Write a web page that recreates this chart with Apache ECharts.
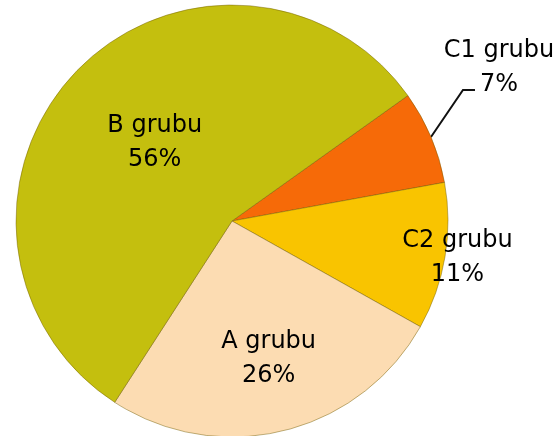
<!DOCTYPE html>
<html>
<head>
<meta charset="utf-8">
<script src="https://cdn.jsdelivr.net/npm/echarts@6/dist/echarts.min.js"></script>
<style>
  html, body { margin: 0; padding: 0; background: #fff; }
  #main { width: 557px; height: 436px; }
</style>
</head>
<body>
<div id="main"></div>
<script>
// slice order follows the picture, clockwise from the top right
const groups = ['C1 grubu', 'C2 grubu', 'A grubu', 'B grubu'];
const percents = [7, 11, 26, 56];
const colors = ['#f66a08', '#f9c400', '#fcdcb2', '#c4bf0e'];

// small nudges for the labels, in pixels (dx, dy)
const labelShift = {
  'B grubu': [3, -2],
  'A grubu': [10, 30],
  'C2 grubu': [116, 18]
};

const myChart = echarts.init(document.getElementById('main'));

const option = {
  animation: false,
  series: [
    {
      type: 'pie',
      center: [232, 221],
      radius: 216,
      startAngle: 35.5,
      clockwise: true,
      itemStyle: {
        borderColor: 'rgba(110, 90, 0, 0.45)',
        borderWidth: 1
      },
      label: {
        show: true,
        position: 'inside',
        formatter: '{b}\n{c}%',
        fontFamily: 'DejaVu Sans',
        fontSize: 24,
        lineHeight: 34,
        color: '#000',
        align: 'center'
      },
      labelLine: {
        show: true,
        lineStyle: { color: '#111', width: 2 }
      },
      labelLayout: function (p) {
        const name = groups[p.dataIndex];
        if (name === 'C1 grubu' && p.labelLinePoints) {
          const a = p.labelLinePoints[0];
          return {
            x: a[0] + 68,
            y: a[1] - 69,
            width: 140,
            align: 'center',
            verticalAlign: 'middle',
            labelLinePoints: [
              [a[0], a[1]],
              [a[0] + 32, a[1] - 47],
              [a[0] + 44, a[1] - 47]
            ]
          };
        }
        const s = labelShift[name];
        return s ? { dx: s[0], dy: s[1] } : {};
      },
      data: groups.map(function (g, i) {
        const item = {
          name: g,
          value: percents[i],
          itemStyle: { color: colors[i] }
        };
        if (g === 'C1 grubu') {
          item.label = { position: 'outside', overflow: 'none', width: 140 };
        } else {
          item.labelLine = { show: false };
        }
        return item;
      })
    }
  ]
};

myChart.setOption(option);
</script>
</body>
</html>
